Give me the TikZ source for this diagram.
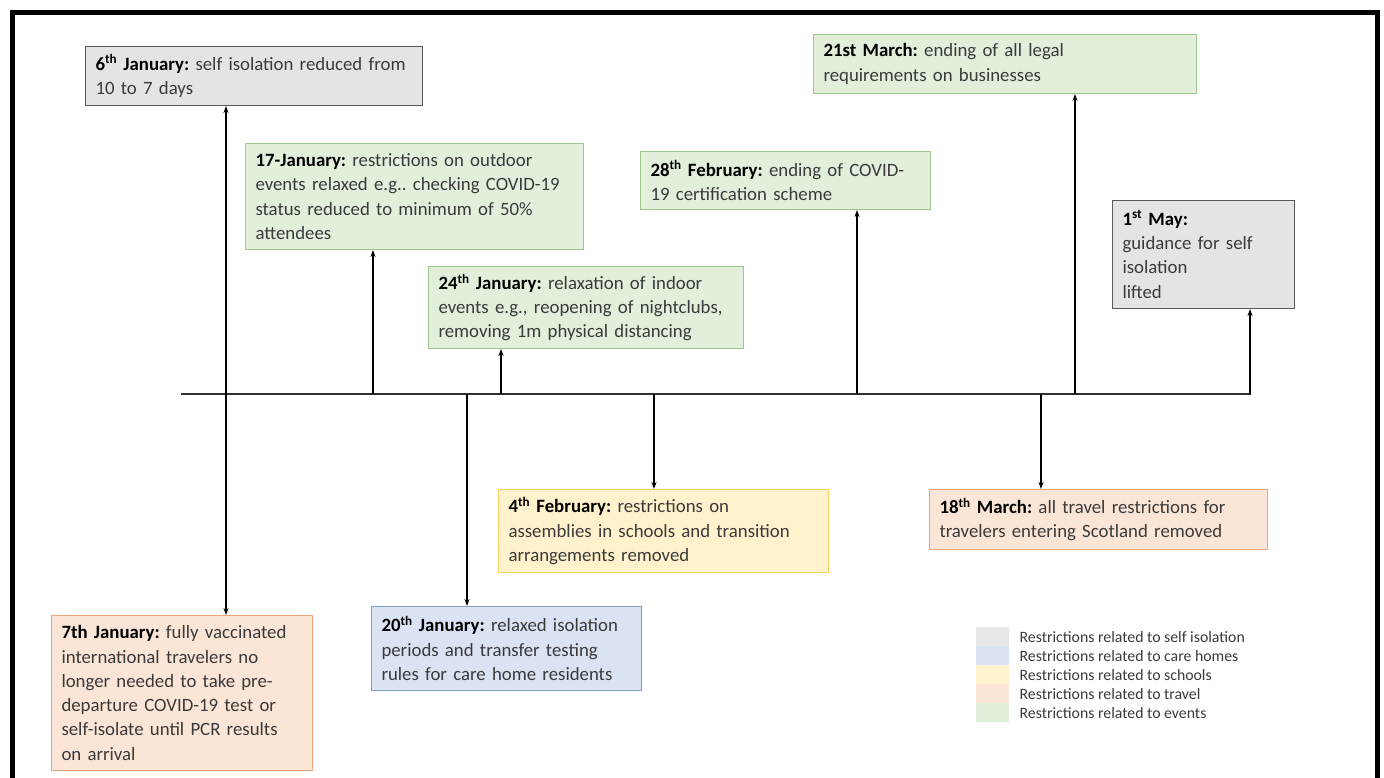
\documentclass[tikz,border=0pt]{standalone}
\usepackage{fontspec}
\setmainfont{Carlito}
\usepackage{xcolor}
\usepackage{tikz}
\usetikzlibrary{arrows.meta}

\definecolor{isofill}{HTML}{E4E4E4}
\definecolor{isodraw}{HTML}{595959}
\definecolor{evfill}{HTML}{E2EFDA}
\definecolor{evdraw}{HTML}{9CC98A}
\definecolor{carefill}{HTML}{DAE3F3}
\definecolor{caredraw}{HTML}{7F9CCB}
\definecolor{schfill}{HTML}{FFF2CC}
\definecolor{schdraw}{HTML}{F5D25C}
\definecolor{trvfill}{HTML}{FBE5D6}
\definecolor{trvdraw}{HTML}{EDA57A}
\definecolor{txtgray}{HTML}{3A3A3A}

\newcommand{\evdate}[1]{\textbf{\color{black}#1}}

\tikzset{
	evbox/.style={draw, rectangle, line width=1pt, inner xsep=10pt, inner ysep=0pt,
		align=left, anchor=north west, text=txtgray,
		font=\fontsize{18.8}{24.3}\selectfont\frenchspacing},
	isobox/.style={evbox, fill=isofill, draw=isodraw},
	eventbox/.style={evbox, fill=evfill, draw=evdraw},
	carebox/.style={evbox, fill=carefill, draw=caredraw},
	schoolbox/.style={evbox, fill=schfill, draw=schdraw},
	travelbox/.style={evbox, fill=trvfill, draw=trvdraw},
	evarrow/.style={line width=1.3pt, -{Stealth[length=7pt, width=5pt]}},
	swatch/.style={rectangle, minimum width=33, minimum height=19, inner sep=0pt, anchor=north west},
	legtext/.style={anchor=west, inner sep=0pt, text=txtgray, font=\fontsize{15.8}{17}\selectfont}
}

\begin{document}
\begin{tikzpicture}[x=1pt, y=-1pt]
			\def\axisY{394};

			\useasboundingbox (0,0) rectangle (1384,778);

			% frame
			\draw [line width=5.5pt, line join=miter] (12.7,778) -- (12.7,12.5) -- (1377.5,12.5) -- (1377.5,778);

			% time axis
			\coordinate (axL) at (181,\axisY);
			\coordinate (axR) at (1251,\axisY);
			\draw [line width=1.4pt, black!80] (axL) -- (axR);

			\coordinate (t6jan) at (226,\axisY);
			\coordinate (t17jan) at (373,\axisY);
			\coordinate (t24jan) at (501,\axisY);
			\coordinate (t28feb) at (857,\axisY);
			\coordinate (t21mar) at (1075,\axisY);
			\coordinate (t1may) at (1250,\axisY);
			\coordinate (t20jan) at (467,\axisY);
			\coordinate (t4feb) at (654,\axisY);
			\coordinate (t18mar) at (1041,\axisY);

			% boxes above the axis
			\begin{scope}
				\node [isobox, minimum width=337, minimum height=59, text width=317] (b6jan) at (85,46)
					{\evdate{6\textsuperscript{th} January:} self isolation reduced from\\10 to 7 days};
				\node [eventbox, minimum width=338, minimum height=106, text width=318] (b17jan) at (245,143)
					{\evdate{17-January:} restrictions on outdoor\\events relaxed e.g.. checking COVID-19\\status reduced to minimum of 50\%\\attendees};
				\node [eventbox, minimum width=315, minimum height=82, text width=295] (b24jan) at (428,266)
					{\evdate{24\textsuperscript{th} January:} relaxation of indoor\\events e.g., reopening of nightclubs,\\removing 1m physical distancing};
				\node [eventbox, minimum width=290, minimum height=58, text width=270] (b28feb) at (640,151)
					{\evdate{28\textsuperscript{th} February:} ending of COVID-\\19 certification scheme};
				\node [eventbox, minimum width=383, minimum height=59, text width=363] (b21mar) at (813,34)
					{\evdate{21st March:} ending of all legal\\requirements on businesses};
				\node [isobox, minimum width=182, minimum height=108, text width=162] (b1may) at (1112,200)
					{\evdate{1\textsuperscript{st} May:}\\guidance for self\\isolation\\lifted};
			\end{scope}

			% boxes below the axis
			\begin{scope}
				\node [travelbox, minimum width=261, minimum height=155, text width=241] (b7jan) at (51,615)
					{\evdate{7th January:} fully vaccinated\\international travelers no\\longer needed to take pre-\\departure COVID-19 test or\\self-isolate until PCR results\\on arrival};
				\node [carebox, minimum width=270, minimum height=84, text width=250] (b20jan) at (371,606)
					{\evdate{20\textsuperscript{th} January:} relaxed isolation\\periods and transfer testing\\rules for care home residents};
				\node [schoolbox, minimum width=330, minimum height=83, text width=310] (b4feb) at (498,489)
					{\evdate{4\textsuperscript{th} February:} restrictions on\\assemblies in schools and transition\\arrangements removed};
				\node [travelbox, minimum width=338, minimum height=60, text width=318] (b18mar) at (929,489)
					{\evdate{18\textsuperscript{th} March:} all travel restrictions for\\travelers entering Scotland removed};
			\end{scope}

			% arrows
			\begin{scope}[evarrow]
				\draw (t6jan) -- (t6jan |- b6jan.south);
				\draw (t17jan) -- (t17jan |- b17jan.south);
				\draw (t24jan) -- (t24jan |- b24jan.south);
				\draw (t28feb) -- (t28feb |- b28feb.south);
				\draw (t21mar) -- (t21mar |- b21mar.south);
				\draw (t1may) -- (t1may |- b1may.south);

				\draw (t6jan) -- (t6jan |- b7jan.north);
				\draw (t20jan) -- (t20jan |- b20jan.north);
				\draw (t4feb) -- (t4feb |- b4feb.north);
				\draw (t18mar) -- (t18mar |- b18mar.north);
			\end{scope}

			% legend
			\begin{scope}
				\node [swatch, fill=isofill!85] (lg1) at (976,627) {};
				\node [swatch, fill=carefill] (lg2) at (976,646) {};
				\node [swatch, fill=schfill] (lg3) at (976,665) {};
				\node [swatch, fill=trvfill] (lg4) at (976,684) {};
				\node [swatch, fill=evfill] (lg5) at (976,703) {};

				\node [legtext] (lt1) at ([xshift=10]lg1.east) {Restrictions related to self isolation};
				\node [legtext] (lt2) at ([xshift=10]lg2.east) {Restrictions related to care homes};
				\node [legtext] (lt3) at ([xshift=10]lg3.east) {Restrictions related to schools};
				\node [legtext] (lt4) at ([xshift=10]lg4.east) {Restrictions related to travel};
				\node [legtext] (lt5) at ([xshift=10]lg5.east) {Restrictions related to events};
			\end{scope}
		\end{tikzpicture}
\end{document}
